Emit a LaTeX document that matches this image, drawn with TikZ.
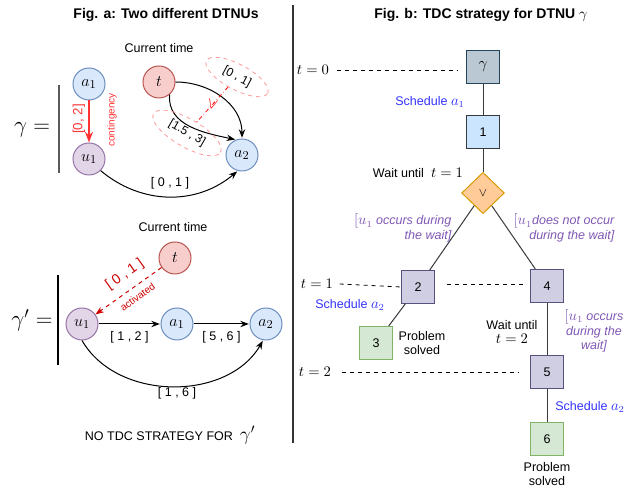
\documentclass[tikz,border=0pt]{standalone}
\usepackage{fontspec}
\setmainfont{Liberation Sans}
\usepackage{amsmath, amssymb}
\usetikzlibrary{arrows.meta, shapes.geometric, calc}
\definecolor{bluefill}{RGB}{218,232,252}
\definecolor{blueline}{RGB}{108,142,191}
\definecolor{purplefill}{RGB}{225,213,231}
\definecolor{purpleline}{RGB}{150,115,166}
\definecolor{redfill}{RGB}{248,206,204}
\definecolor{redline}{RGB}{184,84,80}
\definecolor{greenfill}{RGB}{213,232,212}
\definecolor{greenline}{RGB}{130,179,102}
\definecolor{slatefill}{RGB}{208,206,226}
\definecolor{slateline}{RGB}{86,81,126}
\definecolor{rootfill}{RGB}{186,200,211}
\definecolor{rootline}{RGB}{35,68,93}
\definecolor{skyfill}{RGB}{204,229,255}
\definecolor{orangefill}{RGB}{255,204,153}
\definecolor{orangeline}{RGB}{215,155,0}
\definecolor{edgegray}{RGB}{54,57,61}
\definecolor{accentred}{RGB}{255,51,51}
\definecolor{darkred}{RGB}{204,0,0}
\definecolor{pinkline}{RGB}{255,153,153}
\definecolor{schedblue}{RGB}{51,51,255}
\definecolor{branchpurple}{RGB}{127,87,180}
\newcommand{\mathlbl}[1]{{\fontsize{10.5}{12}\selectfont$#1$}}

\begin{document}
\begin{tikzpicture}[x=0.75pt, y=0.75pt, >=Stealth,
    font=\fontsize{9.4}{11}\selectfont,
    vert/.style={circle, draw, line width=0.75pt, minimum size=24pt, inner sep=0pt, font=\fontsize{13}{13}\selectfont},
    act/.style={vert, fill=bluefill, draw=blueline},
    ctg/.style={vert, fill=purplefill, draw=purpleline},
    now/.style={vert, fill=redfill, draw=redline},
    arr/.style={->, line width=0.75pt, shorten >=0.5pt},
    oval/.style={ellipse, draw=pinkline, dashed, line width=0.6pt, inner sep=0pt, font=\fontsize{9}{10}\selectfont},
    box/.style={rectangle, draw, line width=0.75pt, minimum size=24.75pt, inner sep=0pt},
    tedge/.style={edgegray, line width=0.75pt},
    tline/.style={dashed, line width=0.6pt},
    sched/.style={schedblue},
    branch/.style={branchpurple, font=\fontsize{9.4}{11}\selectfont\itshape},
    tlbl/.style={font=\fontsize{10.5}{12}\selectfont}
]
    \useasboundingbox (0,0) rectangle (637,491);

    % Titles and divider
    \node[font=\fontsize{10.5}{12}\selectfont\bfseries] (ta) at (166,476) {Fig. a: Two different DTNUs};
    \node[font=\fontsize{10.5}{12}\selectfont\bfseries] (tb) at (481,476) {Fig. b: TDC strategy for DTNU \mathlbl{\gamma}};
    \draw[line width=1.1pt, black!80] (293,486) -- (293,48);

    % DTNU gamma
    \node[font=\fontsize{17}{17}\selectfont] (gam) at (32,361) {$\gamma =$};
    \draw[line width=1.1pt, black!65] (59,406) -- (59,318);
    \node (cur1) at (159,443) {Current time};
    \node[act] (a1) at (89,407) {$a_1$};
    \node[ctg] (u1) at (89,332) {$u_1$};
    \node[now] (t) at (159,409) {$t$};
    \node[act] (a2) at (242,336) {$a_2$};

    % Contingent link
    \draw[->, accentred, line width=1.1pt] (a1) -- (u1);
    \node[accentred, rotate=90, font=\fontsize{10}{11}\selectfont] at (79,372) {[0, 2]};
    \node[accentred, rotate=90, font=\fontsize{7.5}{9}\selectfont] at (112,371) {contingency};

    % Disjunctive constraints
    \draw[arr] (t.east) to[out=0, in=90] (a2.north);
    \draw[arr] (t.-50) to[out=-95, in=168] (a2.112);
    \node[oval, rotate=-28, minimum width=52pt, minimum height=19pt] (e1) at (237,414) {[0 , 1]};
    \node[oval, rotate=-30, minimum width=58pt, minimum height=21pt] (e2) at (187,358) {[1.5 , 3]};
    \draw[red, dash dot, line width=0.6pt] (e1) -- (e2) node[midway, rotate=-15, font=\fontsize{12}{12}\selectfont] {$\vee$};
    \draw[arr] (u1.-45) to[out=-40, in=-140] (a2.-105);
    \node (l01) at (170,308) {[ 0 , 1 ]};

    % DTNU gamma prime
    \node[font=\fontsize{17}{17}\selectfont] (gamp) at (32,171) {$\gamma' =$};
    \draw[line width=1pt] (58,216) -- (58,126);
    \node (cur2) at (173,264) {Current time};
    \node[now] (tt) at (175,233) {$t$};
    \node[ctg] (uu1) at (82,167) {$u_1$};
    \node[act] (aa1) at (177,167) {$a_1$};
    \node[act] (aa2) at (266,167) {$a_2$};

    \draw[->, darkred, dashed, line width=0.75pt] (tt) -- (uu1)
        node[pos=0.42, sloped, above=3pt, font=\fontsize{10.5}{12}\selectfont] {[ 0 , 1 ]}
        node[pos=0.45, sloped, below=1pt, font=\fontsize{7.5}{9}\selectfont] {activated};
    \draw[arr] (uu1) -- (aa1) node[midway, below=2pt] {[ 1 , 2 ]};
    \draw[arr] (aa1) -- (aa2) node[midway, below=2pt] {[ 5 , 6 ]};
    \draw[arr] (uu1.-90) to[out=-60, in=-120] (aa2.-100);
    \node (l16) at (177,98) {[ 1 , 6 ]};

    \node (nots) at (170,56) {NO TDC STRATEGY FOR \ {\fontsize{14}{14}\selectfont$\gamma'$}};

    % Strategy tree
    \node[box, fill=rootfill, draw=rootline, font=\fontsize{13}{13}\selectfont] (g) at (483,424) {$\gamma$};
    \node[box, fill=skyfill, draw=edgegray] (b1) at (483,359) {1};
    \node[diamond, draw=orangeline, fill=orangefill, line width=0.75pt, minimum width=32pt, minimum height=31pt, inner sep=0pt] (d) at (483,298) {$\vee$};
    \node[box, fill=slatefill, draw=slateline] (b2) at (418,204) {2};
    \node[box, fill=slatefill, draw=slateline] (b4) at (547,205) {4};
    \node[box, fill=greenfill, draw=greenline] (b3) at (376,148) {3};
    \node[box, fill=slatefill, draw=slateline] (b5) at (547,119) {5};
    \node[box, fill=greenfill, draw=greenline] (b6) at (547,52) {6};

    \draw[tedge] (g) -- (b1);
    \draw[tedge] (b1) -- (d);
    \draw[tedge] (d) -- (b2);
    \draw[tedge] (d) -- (b4);
    \draw[tedge] (b2) -- (b3);
    \draw[tedge] (b4) -- (b5);
    \draw[tedge] (b5) -- (b6);

    % Time marks
    \node[tlbl] (lt0) at (313,421) {$t=0$};
    \coordinate (m0) at (457,421);
    \draw[tline] (lt0.east) ++(3,0) -- (m0);
    \node[tlbl] (lt1) at (317,207) {$t=1$};
    \coordinate (m1a) at (447,207);
    \coordinate (m1b) at (523,207);
    \draw[tline] (lt1.east) ++(2,0) -- (b2.west);
    \draw[tline] (m1a) -- (m1b);
    \node[tlbl] (lt2) at (315,119) {$t=2$};
    \coordinate (m2) at (518,119);
    \draw[tline] (lt2.east) ++(6,0) -- (m2);

    % Actions and branch conditions
    \node[sched] (s1) at (430,389) {Schedule \mathlbl{a_1}};
    \node (w1) at (418,318) {Wait until \ \mathlbl{t=1}};
    \node[branch, align=right, anchor=east] (c1) at (456,263) {{\upshape\mathlbl{[u_1}} occurs during\\the wait]};
    \node[branch, align=right, anchor=east] (c2) at (619,263) {{\upshape\mathlbl{[u_1}}does not occur\\during the wait]};
    \node[sched] (s2) at (350,186) {Schedule \mathlbl{a_2}};
    \node[align=center] (p1) at (422,148) {Problem\\solved};
    \node[align=center] (w2) at (512,159) {Wait until\\\mathlbl{t=2}};
    \node[branch, align=center] (c3) at (594,160) {{\upshape\mathlbl{[u_1}} occurs\\during the\\wait]};
    \node[sched] (s3) at (590,84) {Schedule \mathlbl{a_2}};
    \node[align=center] (p2) at (547,17) {Problem\\solved};
\end{tikzpicture}
\end{document}
